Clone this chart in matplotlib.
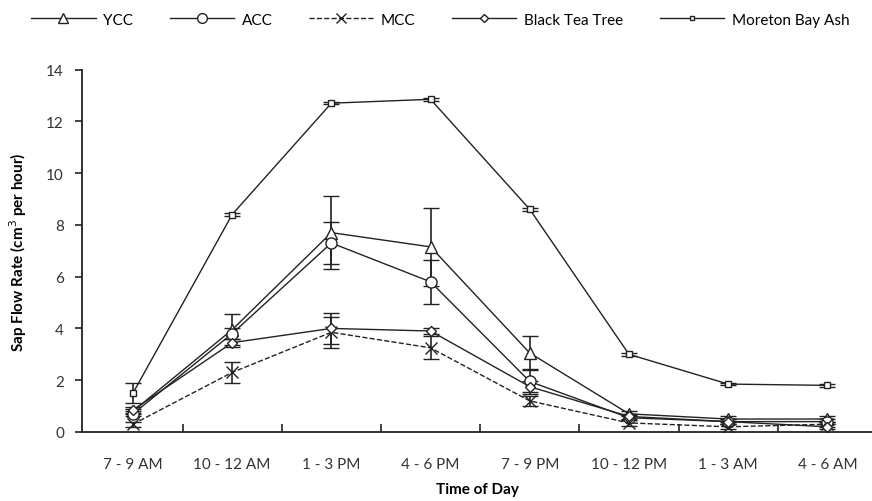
import matplotlib.pyplot as plt
from matplotlib.ticker import FixedLocator
from matplotlib.lines import Line2D

plt.rcParams['font.family'] = ['Lato', 'DejaVu Sans']

# ── Data ──
times = ["7 - 9 AM", "10 - 12 AM", "1 - 3 PM", "4 - 6 PM",
         "7 - 9 PM", "10 - 12 PM", "1 - 3 AM", "4 - 6 AM"]

ycc = [0.8, 3.95, 7.7, 7.15, 3.05, 0.7, 0.5, 0.5]
ycc_err = [0.1, 0.6, 1.4, 1.5, 0.65, 0.1, 0.1, 0.1]

acc = [0.7, 3.8, 7.3, 5.8, 1.95, 0.55, 0.4, 0.4]
acc_err = [0.1, 0.2, 0.8, 0.85, 0.5, 0.1, 0.1, 0.1]

mcc = [0.3, 2.3, 3.85, 3.25, 1.2, 0.35, 0.2, 0.3]
mcc_err = [0.1, 0.4, 0.6, 0.45, 0.2, 0.1, 0.1, 0.1]

btt = [0.85, 3.45, 4.0, 3.9, 1.75, 0.6, 0.4, 0.2]
btt_err = [0.1, 0.15, 0.6, 0.1, 0.2, 0.1, 0.1, 0.1]

mba = [1.5, 8.4, 12.7, 12.85, 8.6, 3.0, 1.85, 1.8]
mba_err = [0.4, 0.05, 0.05, 0.05, 0.05, 0.05, 0.05, 0.05]

x = list(range(len(times)))

fig = plt.figure(figsize=(8.72, 5.02), dpi=100)
ax = fig.add_axes([0.094, 0.1375, 0.906, 0.722])

col = '#222222'
common = dict(color=col, lw=1.0, capsize=6, elinewidth=1.2, capthick=1.2,
              mfc='white', mec=col, mew=1.0)

series = [
    (ycc, ycc_err, '^', 8, '-', 'YCC'),
    (acc, acc_err, 'o', 8, '-', 'ACC'),
    (mcc, mcc_err, 'x', 8, '--', 'MCC'),
    (btt, btt_err, 'D', 5, '-', 'Black Tea Tree'),
    (mba, mba_err, 's', 4, '-', 'Moreton Bay Ash'),
]

handles = []
for vals, err, m, ms, ls, name in series:
    ax.errorbar(x, vals, yerr=err, marker=m, ms=ms, ls=ls, **common)
    handles.append(Line2D([], [], color=col, lw=1.0, ls=ls, marker=m, ms=ms - 1,
                          mfc='white', mec=col, mew=1.0, label=name))

ax.set_xlim(-0.514, 7.45)
ax.set_ylim(0, 14)
ax.set_yticks(range(0, 15, 2))
ax.set_xticks(x)
ax.set_xticklabels(times, fontsize=11, color='#333333')
ax.tick_params(axis='x', which='major', length=0, pad=18)
ax.xaxis.set_minor_locator(FixedLocator([i + 0.5 for i in range(7)]))
ax.tick_params(axis='x', which='minor', direction='in', length=6, width=1.2, color=col)
ax.tick_params(axis='y', direction='out', length=5, width=1.2, color=col,
               labelsize=11, labelcolor='#333333', pad=8)

for s in ['top', 'right']:
    ax.spines[s].set_visible(False)
for s in ['left', 'bottom']:
    ax.spines[s].set_linewidth(1.3)
    ax.spines[s].set_color(col)

ax.set_xlabel("Time of Day", fontsize=11, fontweight='bold', labelpad=8)
ax.set_ylabel("Sap Flow Rate (cm$^3$ per hour)", fontsize=11, fontweight='bold', labelpad=12)

fig.legend(handles=handles, loc='upper center', bbox_to_anchor=(0.505, 1.0), ncol=5,
           frameon=False, fontsize=11, handlelength=4.2, columnspacing=2.4,
           handletextpad=0.5)

plt.savefig("out.png")
